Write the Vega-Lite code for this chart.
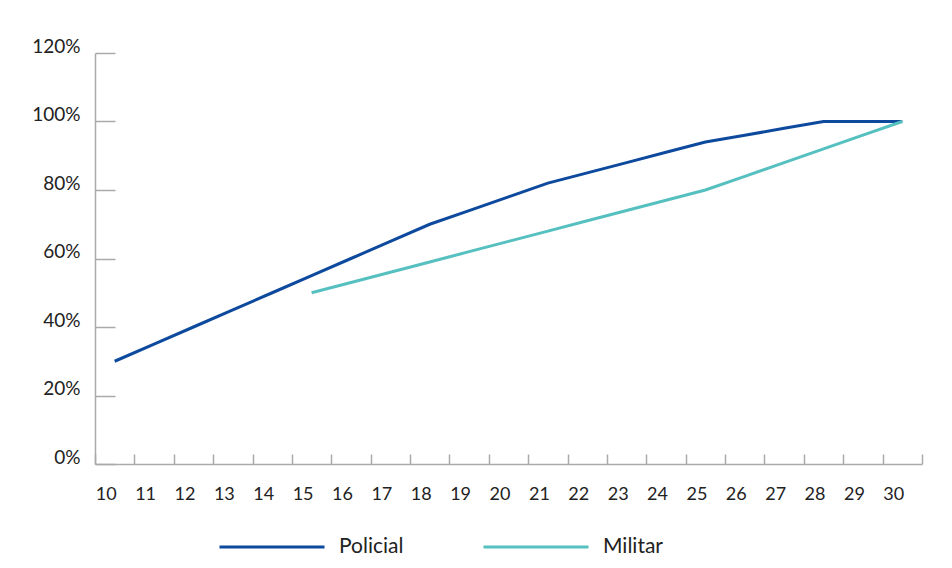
{
  "$schema": "https://vega.github.io/schema/vega-lite/v6.json",
  "autosize": "none",
  "width": 827,
  "height": 411,
  "padding": {"left": 95, "top": 53, "right": 30, "bottom": 104},
  "background": "white",
  "config": {
    "view": {"stroke": null},
    "font": "Lato",
    "axis": {"grid": false, "domainColor": "#aaaaaa", "domainWidth": 1.5, "tickColor": "#aaaaaa", "tickWidth": 1.5, "labelFont": "Lato", "labelFontSize": 18, "labelColor": "#222222", "title": null}
  },
  "data": {
    "values": [
      {"series": "Policial", "age": 10, "value": 30},
      {"series": "Policial", "age": 11, "value": 35},
      {"series": "Policial", "age": 12, "value": 40},
      {"series": "Policial", "age": 13, "value": 45},
      {"series": "Policial", "age": 14, "value": 50},
      {"series": "Policial", "age": 15, "value": 55},
      {"series": "Policial", "age": 16, "value": 60},
      {"series": "Policial", "age": 17, "value": 65},
      {"series": "Policial", "age": 18, "value": 70},
      {"series": "Policial", "age": 19, "value": 74},
      {"series": "Policial", "age": 20, "value": 78},
      {"series": "Policial", "age": 21, "value": 82},
      {"series": "Policial", "age": 22, "value": 85},
      {"series": "Policial", "age": 23, "value": 88},
      {"series": "Policial", "age": 24, "value": 91},
      {"series": "Policial", "age": 25, "value": 94},
      {"series": "Policial", "age": 26, "value": 96},
      {"series": "Policial", "age": 27, "value": 98},
      {"series": "Policial", "age": 28, "value": 100},
      {"series": "Policial", "age": 29, "value": 100},
      {"series": "Policial", "age": 30, "value": 100},
      {"series": "Militar", "age": 15, "value": 50},
      {"series": "Militar", "age": 16, "value": 53},
      {"series": "Militar", "age": 17, "value": 56},
      {"series": "Militar", "age": 18, "value": 59},
      {"series": "Militar", "age": 19, "value": 62},
      {"series": "Militar", "age": 20, "value": 65},
      {"series": "Militar", "age": 21, "value": 68},
      {"series": "Militar", "age": 22, "value": 71},
      {"series": "Militar", "age": 23, "value": 74},
      {"series": "Militar", "age": 24, "value": 77},
      {"series": "Militar", "age": 25, "value": 80},
      {"series": "Militar", "age": 26, "value": 84},
      {"series": "Militar", "age": 27, "value": 88},
      {"series": "Militar", "age": 28, "value": 92},
      {"series": "Militar", "age": 29, "value": 96},
      {"series": "Militar", "age": 30, "value": 100}
    ]
  },
  "mark": {"type": "line", "strokeWidth": 3},
  "encoding": {
    "x": {
      "field": "age", "type": "quantitative",
      "scale": {"domain": [9.5, 30.5], "nice": false, "zero": false},
      "axis": {
        "values": [9.5, 10, 10.5, 11, 11.5, 12, 12.5, 13, 13.5, 14, 14.5, 15, 15.5, 16, 16.5, 17, 17.5, 18, 18.5, 19, 19.5, 20, 20.5, 21, 21.5, 22, 22.5, 23, 23.5, 24, 24.5, 25, 25.5, 26, 26.5, 27, 27.5, 28, 28.5, 29, 29.5, 30, 30.5],
        "labelExpr": "datum.value % 1 == 0 ? format(datum.value, 'd') : ''",
        "tickOpacity": {"condition": {"test": "datum.value % 1 != 0", "value": 1}, "value": 0},
        "tickSize": -10,
        "labelPadding": 31,
        "labelBaseline": "top",
        "labelOffset": -9,
        "labelFlush": false,
        "labelOverlap": false
      }
    },
    "y": {
      "field": "value", "type": "quantitative",
      "scale": {"domain": [0, 120], "nice": false},
      "axis": {
        "values": [0, 20, 40, 60, 80, 100, 120],
        "labelExpr": "datum.value + '%'",
        "tickSize": -20,
        "labelPadding": 35,
        "labelFontSize": 19,
        "labelBaseline": "alphabetic",
        "labelOffset": -1
      }
    },
    "color": {
      "field": "series", "type": "nominal",
      "scale": {"domain": ["Policial", "Militar"], "range": ["#0d4a9e", "#55c0bf"]},
      "legend": {
        "title": null,
        "orient": "none",
        "legendX": 123,
        "legendY": 440,
        "padding": 0,
        "direction": "horizontal",
        "symbolType": "stroke",
        "symbolSize": 11025,
        "symbolStrokeWidth": 3,
        "labelFont": "Lato",
        "labelFontSize": 21,
        "labelColor": "#222222",
        "labelOffset": 13,
        "columnPadding": 73
      }
    }
  }
}
